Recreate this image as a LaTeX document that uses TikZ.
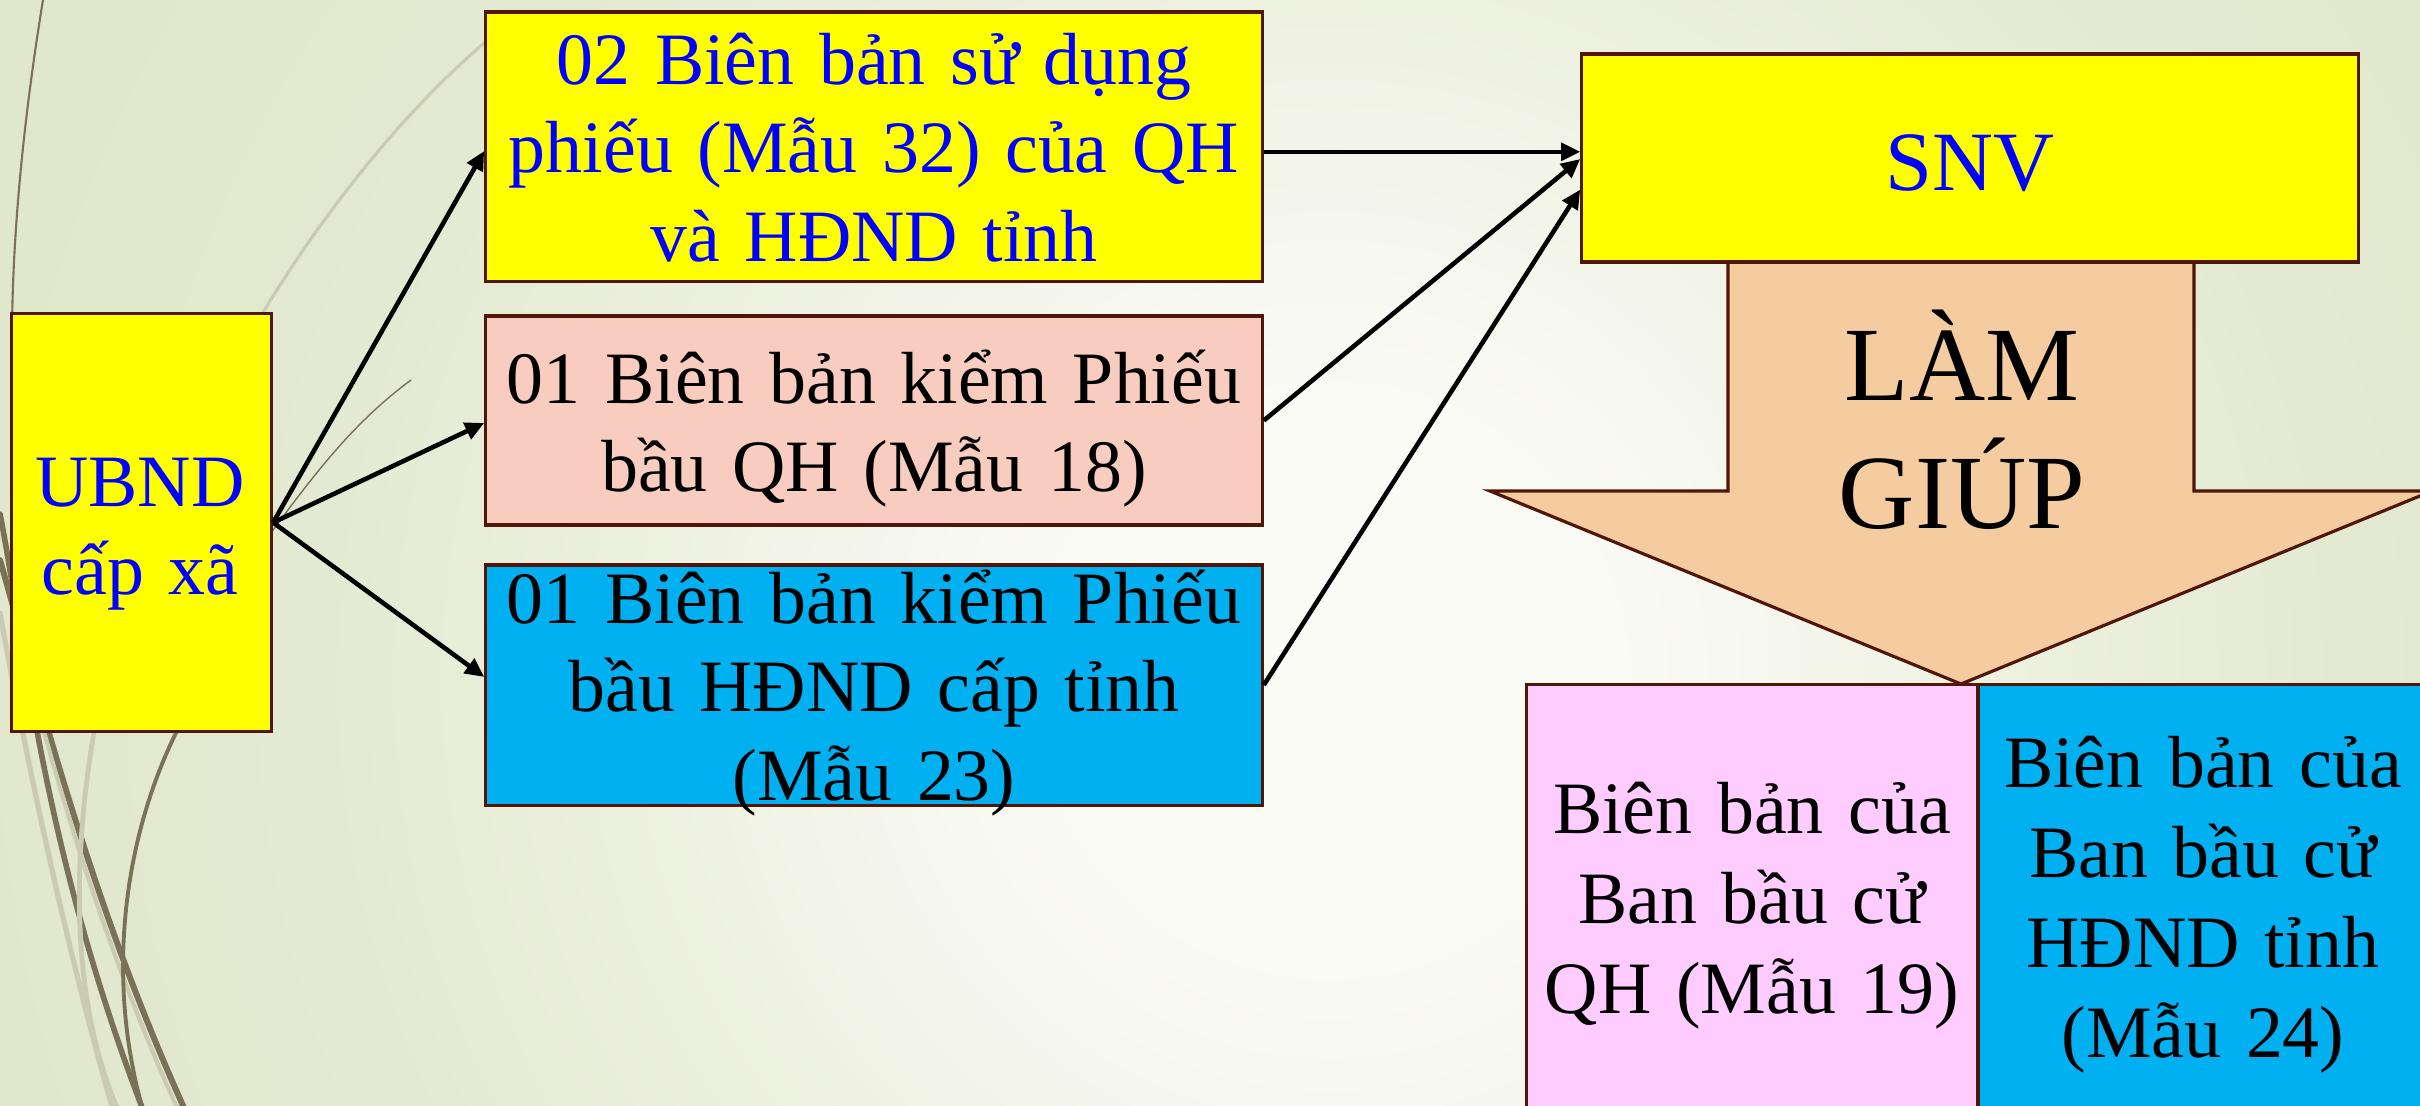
\documentclass[tikz,border=0pt]{standalone}
\usepackage{fontspec}
\setmainfont{Liberation Serif}
\usetikzlibrary{arrows.meta,calc}

\definecolor{bgedge}{RGB}{224,231,203}
\definecolor{bgcenter}{RGB}{251,251,246}
\definecolor{wispD}{RGB}{122,113,88}
\definecolor{wispL}{RGB}{203,203,178}
\definecolor{edgebrown}{RGB}{80,22,10}
\definecolor{boxyellow}{RGB}{255,255,0}
\definecolor{boxsalmon}{RGB}{248,204,190}
\definecolor{boxcyan}{RGB}{0,176,240}
\definecolor{boxlilac}{RGB}{255,204,255}
\definecolor{arrowpeach}{RGB}{244,204,160}
\definecolor{txtblue}{RGB}{0,0,255}

% soft glow: the disc edge sits at 25bp of the shading
\pgfdeclareradialshading{bgglow}{\pgfpoint{0bp}{0bp}}{%
  color(0bp)=(bgcenter); color(5bp)=(bgcenter); color(12bp)=(bgcenter!50!bgedge);
  color(18bp)=(bgcenter!15!bgedge); color(25bp)=(bgedge); color(50bp)=(bgedge)}

\tikzset{
  box/.style={draw=edgebrown, line width=0.9pt, inner sep=0pt, rectangle},
  link/.style={draw=black, line width=1.3pt, -{Triangle[length=5.4pt,width=5pt]}},
  txt/.style={anchor=base, align=center, text width=9cm, inner sep=0pt,
              font=\fontsize{21pt}{25.3pt}\selectfont},
  wispdark/.style={draw=wispD, line cap=round},
  wisplight/.style={draw=wispL, line cap=round},
}

\begin{document}
\begin{tikzpicture}[x=0.01cm,y=-0.01cm]
\useasboundingbox (0,0) rectangle (2420,1105);

% background with a soft light glow
\fill[bgedge] (0,0) rectangle (2420,1105);
\begin{scope}
  \clip (0,0) rectangle (2420,1105);
  \shade[shading=bgglow] (1330,680) circle[radius=14cm];

  % decorative wisps on the left
  \draw[wispdark, line width=0.6pt] (43,0) .. controls (25,110) and (12,230) .. (12,340);
  \draw[wisplight, line width=0.9pt] (230,370) .. controls (300,240) and (400,110) .. (500,30);
  \draw[wispdark, line width=1.6pt] (0,514) .. controls (25,640) and (40,840) .. (143,1110);
  \draw[wispdark, line width=1.7pt] (0,560) .. controls (40,700) and (90,900) .. (185,1110);
  \draw[wisplight, line width=1.5pt] (0,613) .. controls (30,780) and (70,960) .. (113,1110);
  \draw[wisplight, line width=1.4pt] (100,700) .. controls (70,850) and (70,1000) .. (118,1110);
  \draw[wisplight, line width=1.2pt] (20,640) .. controls (60,800) and (110,960) .. (178,1110);
  \draw[wispdark, line width=1.1pt] (200,690) .. controls (130,800) and (100,960) .. (143,1110);
  \draw[wispdark, line width=0.4pt] (262,545) .. controls (310,480) and (350,425) .. (411,380);
\end{scope}

% large downward arrow
\draw[draw=edgebrown, line width=0.9pt, fill=arrowpeach, line join=miter]
  (1728,250) -- (1728,491) -- (1490,491) -- (1961,684) -- (2432,491)
  -- (2194,491) -- (2194,250) -- cycle;

% boxes
\node[box, fill=boxyellow, minimum width=2.60cm, minimum height=4.18cm] (ubnd) at (141.5,522.5) {};
\node[box, fill=boxyellow, minimum width=7.76cm, minimum height=2.69cm] (A) at (874,146.5) {};
\node[box, fill=boxsalmon, minimum width=7.76cm, minimum height=2.09cm] (B) at (874,420.5) {};
\node[box, fill=boxcyan, minimum width=7.76cm, minimum height=2.40cm] (C) at (874,685) {};
\node[box, fill=boxyellow, minimum width=7.76cm, minimum height=2.08cm] (snv) at (1970,158) {};
\node[box, fill=boxlilac, minimum width=4.50cm, minimum height=4.80cm] (qh) at (1752,925) {};
\node[box, fill=boxcyan, minimum width=4.70cm, minimum height=4.80cm] (hd) at (2214,925) {};

% connectors
\draw[link] (ubnd.east) -- ([yshift=-1.3pt]A.west);
\draw[link] (ubnd.east) -- ([yshift=-0.7pt]B.west);
\draw[link] (ubnd.east) -- ([yshift=2.3pt]C.west);
\coordinate (aout) at ([yshift=-1.5pt]A.east);
\draw[link, line width=1.1pt] (aout) -- (aout -| snv.west);
\draw[link] (B.east) -- ([yshift=-0.3pt]snv.west);
\draw[link] (C.east) -- ([yshift=-9pt]snv.west);

% labels
\node[txt, text=txtblue] (tU) at (140,506) {UBND\\cấp xã};
\node[txt, text=txtblue] (tA) at (874,84) {02 Biên bản sử dụng\\phiếu (Mẫu 32) của QH\\và HĐND tỉnh};
\node[txt] (tB) at (874,403) {01 Biên bản kiểm Phiếu\\bầu QH (Mẫu 18)};
\node[txt] (tC) at (874,623) {01 Biên bản kiểm Phiếu\\bầu HĐND cấp tỉnh\\(Mẫu 23)};
\node[txt, text=txtblue, font=\fontsize{24pt}{29pt}\selectfont] (tS) at (1970,190) {SNV};
\node[txt, font=\fontsize{30pt}{36.4pt}\selectfont] (tL) at (1962,400) {LÀM\\GIÚP};
\node[txt, font=\fontsize{21pt}{25.6pt}\selectfont] (t19) at (1752,833) {Biên bản của\\Ban bầu cử\\QH (Mẫu 19)};
\node[txt, font=\fontsize{21pt}{25.6pt}\selectfont] (t24) at (2203,787) {Biên bản của\\Ban bầu cử\\HĐND tỉnh\\(Mẫu 24)};
\end{tikzpicture}
\end{document}
